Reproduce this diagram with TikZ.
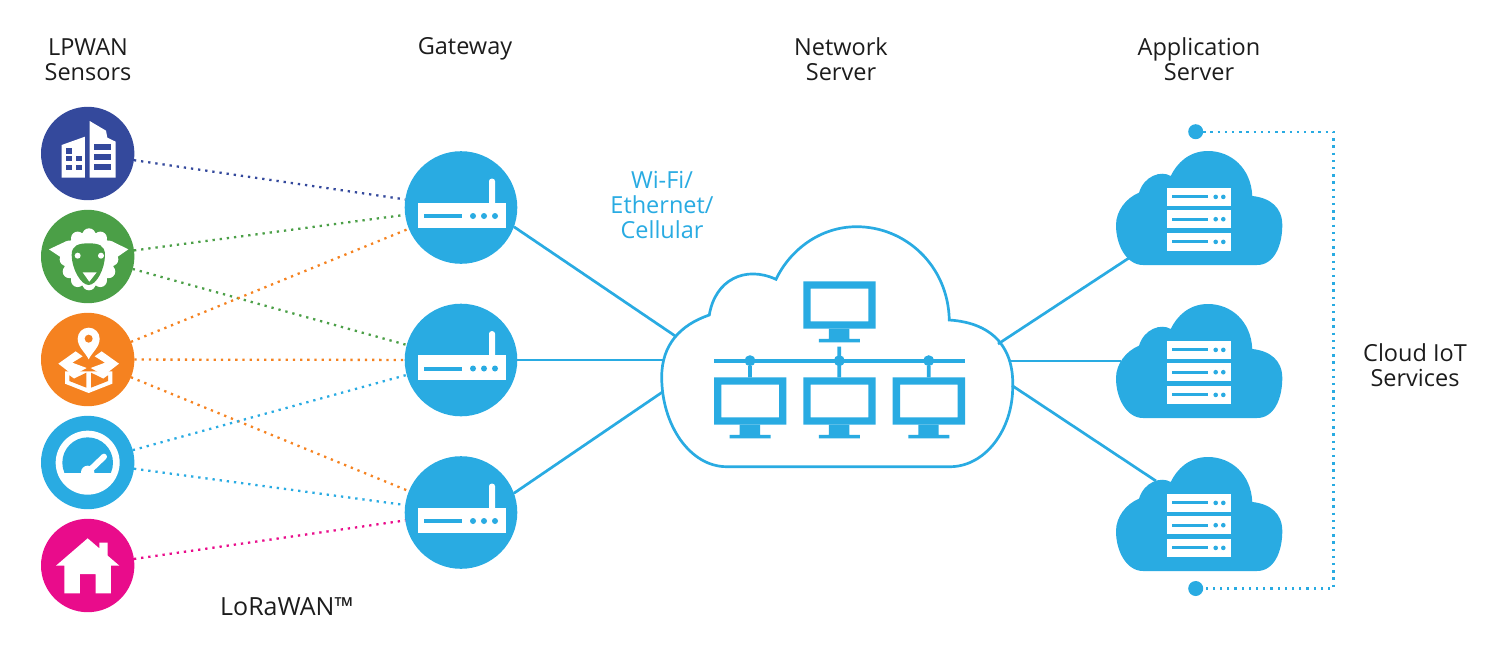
\documentclass[tikz,border=0pt]{standalone}
\usepackage{fontspec}
\setmainfont{Open Sans}
\usetikzlibrary{positioning}
\definecolor{iotblue}{HTML}{29ABE2}
\definecolor{bldnavy}{HTML}{34499C}
\definecolor{sheepgreen}{HTML}{4B9F47}
\definecolor{boxorange}{HTML}{F58220}
\definecolor{homepink}{HTML}{E90C8B}
\definecolor{labelblack}{HTML}{1C1C1C}

\begin{document}
\begin{tikzpicture}[
x=1pt, y=-1pt,
sensornode/.style={circle, minimum size=93.4pt, inner sep=0pt, outer sep=0pt},
gatenode/.style={circle, fill=iotblue, minimum size=112.6pt, inner sep=0pt, outer sep=0pt},
busdot/.style={circle, fill=iotblue, minimum size=11pt, inner sep=0pt, outer sep=0pt},
enddot/.style={circle, fill=iotblue, minimum size=15pt, inner sep=0pt, outer sep=0pt},
label/.style={align=center, text=labelblack, font=\fontsize{23.5}{25}\selectfont},
bluelabel/.style={align=center, text=iotblue, font=\fontsize{23.5}{25}\selectfont},
netline/.style={draw=iotblue, line width=2.7pt},
sensorlink/.style={line width=2.3pt, dash pattern=on 2.3pt off 4.9pt},
pics/router/.style={code={
  \fill[white] (-43.3,-4.8) rectangle (44.7,20.2);
  \fill[white, rounded corners=2.5pt] (28,0) rectangle (34,-28.8);
  \fill[iotblue] (-37,6.8) rectangle (0.7,10.5);
  \foreach \dotx in {12,23,34} {\fill[iotblue] (\dotx,8.5) circle (3);}
}},
pics/monitor/.style={code={
  \begin{scope}[scale=1/3]
  \fill[iotblue, even odd rule] (0,0) rectangle (217,142) (22,22) rectangle (195,120);
  \fill[iotblue] (77,142) rectangle (138,173) (47,173) rectangle (170,183);
  \coordinate (-top) at (108,0);
  \end{scope}
}},
pics/servercloud/.style={code={
  \fill[iotblue] (-56,57) -- (58,57) .. controls (75,57) and (83.3,38) .. (83.3,17)
    .. controls (83.3,0) and (72,-10) .. (53.3,-12) .. controls (52,-40) and (32,-57) .. (9,-57)
    .. controls (-10,-57) and (-22,-45) .. (-28.3,-32) .. controls (-38,-38) and (-55,-32) .. (-60,-15.3)
    .. controls (-73,-10) and (-83,3) .. (-83,17) .. controls (-83,38) and (-72,57) .. (-56,57) -- cycle;
  \foreach \rowy in {-20.3,2,24.7} {
    \fill[white] (-31.7,\rowy) rectangle (32,\rowy+18.3);
    \fill[iotblue] (-27,\rowy+7.7) rectangle (9.3,\rowy+10.7);
    \fill[iotblue] (16.7,\rowy+9.2) circle (2.3) (24.3,\rowy+9.2) circle (2.3);
  }
}},
]
\useasboundingbox (0,0) rectangle (1500,665);

%Nodes
\node[sensornode, fill=bldnavy]    (sensor1) at (87.7,153.5) {};
\node[sensornode, fill=sheepgreen] (sensor2) [below=9.6pt of sensor1] {};
\node[sensornode, fill=boxorange]  (sensor3) [below=9.6pt of sensor2] {};
\node[sensornode, fill=iotblue]    (sensor4) [below=9.6pt of sensor3] {};
\node[sensornode, fill=homepink]   (sensor5) [below=9.6pt of sensor4] {};

\node[gatenode] (gate1) at (461,207.5) {};
\node[gatenode] (gate2) [below=39.9pt of gate1] {};
\node[gatenode] (gate3) [below=39.9pt of gate2] {};
\pic at (gate1) {router};
\pic at (gate2) {router};
\pic at (gate3) {router};

\node[label] (sensorlabel) at (88,59.5) {LPWAN\\Sensors};
\node[label] (gatelabel) at (465,49) {Gateway};
\node[label] (netlabel) at (841,59.5) {Network\\Server};
\node[label] (applabel) at (1199,59.5) {Application\\Server};
\node[label] (iotlabel) at (1415,365.5) {Cloud IoT\\Services};
\node[label, font=\fontsize{25}{25}\selectfont] (lorawan) at (287,606.5) {LoRaWAN™};
\node[bluelabel] (wifilabel) at (662,204.5) {Wi-Fi/\\Ethernet/\\Cellular};

%Network cloud
\draw[netline, fill=white] (726.7,466.7) -- (950,466.7) .. controls (985,466.7) and (1012.7,430) .. (1012.7,387)
  .. controls (1014,350) and (995,323) .. (949.3,320) .. controls (948,265) and (905,226.7) .. (856.7,226.7)
  .. controls (820,226.7) and (790,250) .. (776,279.3) .. controls (745,265) and (715,280) .. (709.3,315)
  .. controls (680,325) and (661.7,345) .. (661.7,377) .. controls (661.7,425) and (690,466.7) .. (726.7,466.7) -- cycle;
\coordinate (netin1) at (676,336.5);
\coordinate (netin2) at (662.5,360);
\coordinate (netin3) at (662.5,392);
\coordinate (netout1) at (998,344);
\coordinate (netout2) at (1010,361);
\coordinate (netout3) at (1012,385.5);

\pic (montop) at (803.3,281.3) {monitor};
\pic (mon1) at (714,377.3) {monitor};
\pic (mon2) at (803.3,377.3) {monitor};
\pic (mon3) at (892.7,377.3) {monitor};
\coordinate (busleft) at (714,360.7);
\coordinate (busright) at (964.7,360.7);
\coordinate (busup) at (839.3,346.7);
\node[busdot] (bus1) at (750,360.7) {};
\node[busdot] (bus2) at (839.3,360.7) {};
\node[busdot] (bus3) at (928.7,360.7) {};

%Application clouds
\pic at (1199,208) {servercloud};
\pic at (1199,361) {servercloud};
\pic at (1199,514) {servercloud};
\coordinate (appin1) at (1132,256);
\coordinate (appin2) at (1121,361);
\coordinate (appin3) at (1156,481);

\node[enddot] (iottop) at (1195.7,131.7) {};
\node[enddot] (iotbot) at (1195.7,588.5) {};
\coordinate (iotcorner) at (1333.5,588.5);

%Lines
\draw[sensorlink, bldnavy] (sensor1) -- (gate1);
\draw[sensorlink, sheepgreen] (sensor2) -- (gate1);
\draw[sensorlink, sheepgreen] (sensor2) -- (gate2);
\draw[sensorlink, boxorange] (sensor3) -- (gate1);
\draw[sensorlink, boxorange] (sensor3) -- (gate2);
\draw[sensorlink, boxorange] (sensor3) -- (gate3);
\draw[sensorlink, iotblue] (sensor4) -- (gate2);
\draw[sensorlink, iotblue] (sensor4) -- (gate3);
\draw[sensorlink, homepink] (sensor5) -- (gate3);

\draw[netline] (gate1.-20) -- (netin1);
\draw[netline] (gate2) -- (netin2);
\draw[netline] (gate3.20) -- (netin3);
\draw[netline] (netout1) -- (appin1);
\draw[netline] (netout2) -- (appin2);
\draw[netline] (netout3) -- (appin3);

\draw[netline, line width=4pt] (busleft) -- (busright);
\draw[netline, line width=3.7pt] (bus1) -- (mon1-top);
\draw[netline, line width=3.7pt] (busup) -- (mon2-top);
\draw[netline, line width=3.7pt] (bus3) -- (mon3-top);

\draw[sensorlink, iotblue] (iottop) -| (iotcorner) -- (iotbot);

%Building
\begin{scope}[shift={(20,90)}, scale=1/3]
\fill[white] (125,165) -- (195,140) -- (195,263) -- (125,263) -- cycle;
\fill[white] (209,93) -- (258,122) -- (262,143) -- (287,155) -- (287,263) -- (209,263) -- cycle;
\foreach \winx/\winy in {138/175, 138/198, 138/225, 168/198, 168/225} {
  \fill[bldnavy] (\winx,\winy) rectangle (\winx+17,\winy+16);
}
\foreach \winy in {162,192,222} {\fill[bldnavy] (221,\winy) rectangle (273,\winy+17);}
\end{scope}

%Sheep
\begin{scope}[shift={(40,210)}, scale=1/3]
\fill[white] (147,148) ellipse (76 and 82);
\foreach \woolang in {0,30,...,330} {\fill[white] (147,148) ++(\woolang:68 and 73) circle (20);}
\fill[white] (27,118) -- (78,94) -- (78,152) -- cycle;
\fill[white] (265,118) -- (216,94) -- (216,152) -- cycle;
\fill[sheepgreen] (146,100) .. controls (175,100) and (195,105) .. (195,135) .. controls (195,175) and (170,225) .. (146,225)
  .. controls (122,225) and (95,175) .. (95,135) .. controls (95,105) and (117,100) .. (146,100) -- cycle;
\fill[white] (113,137) circle (9) (183,137) circle (9);
\fill[white] (128,187) -- (170,187) -- (148,215) -- cycle;
\end{scope}

%Box with pin
\begin{scope}[shift={(40,312)}, scale=1/3]
\fill[white] (75,178) -- (217,178) -- (217,215) -- (146,243) -- (75,215) -- cycle;
\fill[boxorange] (88,190) -- (102,200) -- (139,182) -- (139,227) -- (88,207) -- cycle;
\fill[boxorange] (204,190) -- (190,200) -- (153,182) -- (153,227) -- (204,207) -- cycle;
\fill[white] (55,155) -- (107,118) -- (128,133) -- (97,152) -- (140,168) -- (100,190) -- cycle;
\fill[white] (237,155) -- (185,118) -- (164,133) -- (195,152) -- (152,168) -- (192,190) -- cycle;
\fill[white] (146,142) .. controls (135,120) and (113,105) .. (113,80) arc[start angle=180, end angle=360, radius=33] .. controls (179,105) and (157,120) .. (146,142) -- cycle;
\fill[boxorange] (146,80) circle (12);
\end{scope}

%Gauge
\begin{scope}[shift={(20,400)}, scale=1/3]
\fill[white] (203,188) circle (96);
\begin{scope}
\clip (100,90) rectangle (300,217);
\fill[iotblue] (203,188) circle (76);
\end{scope}
\fill[white] (203,217) circle (20);
\draw[white, line width=6pt, line cap=round] (203,217) -- (252,170);
\end{scope}

%House
\begin{scope}[shift={(20,400)}, scale=1/3]
\fill[white] (203,415) -- (238,445) -- (238,428) -- (263,428) -- (263,467) -- (298,497) -- (273,497) -- (273,580)
  -- (227,580) -- (227,522) -- (180,522) -- (180,580) -- (133,580) -- (133,497) -- (108,497) -- cycle;
\end{scope}

\end{tikzpicture}
\end{document}
